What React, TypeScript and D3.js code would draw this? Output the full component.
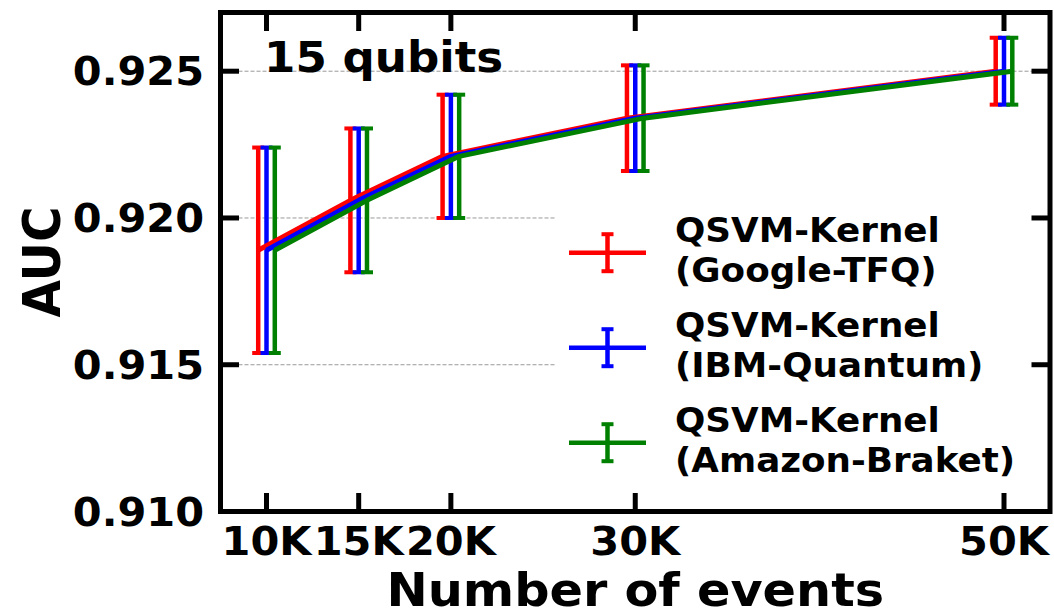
import React from "react";
import * as d3 from "d3";

// Training-set sizes and their tick labels
const events = [10000, 15000, 20000, 30000, 50000];
const eventLabels = ["10K", "15K", "20K", "30K", "50K"];

// Mean AUC and its spread for each simulator backend
const googleAuc = [0.9189, 0.9206, 0.9221, 0.9234, 0.925];
const googleErr = [0.0035, 0.00245, 0.0021, 0.0018, 0.00114];
const ibmAuc = [0.9189, 0.9206, 0.9221, 0.9234, 0.925];
const ibmErr = [0.0035, 0.00245, 0.0021, 0.0018, 0.00114];
const amazonAuc = [0.9189, 0.9206, 0.9221, 0.9234, 0.925];
const amazonErr = [0.0035, 0.00245, 0.0021, 0.0018, 0.00114];

const yTicks = [0.91, 0.915, 0.92, 0.925];
const yTickLabels = ["0.910", "0.915", "0.920", "0.925"];

const seriesNames = [
  ["QSVM-Kernel", "(Google-TFQ)"],
  ["QSVM-Kernel", "(IBM-Quantum)"],
  ["QSVM-Kernel", "(Amazon-Braket)"],
];
const seriesColors = ["#ff0000", "#0000ff", "#008000"];
// horizontal shift (in events) so the three error bars sit side by side
const seriesShift = [-450, 0, 450];

const W = 1054;
const H = 609;
const left = 220.5;
const right = 1050;
const top = 12.5;
const bottom = 511.5;
const FONT = "'DejaVu Sans', sans-serif";
const SX = 1.05; // horizontal glyph stretch

export default function App() {
  const series = [
    { auc: googleAuc, err: googleErr },
    { auc: ibmAuc, err: ibmErr },
    { auc: amazonAuc, err: amazonErr },
  ].map((s, i) => ({
    ...s,
    color: seriesColors[i],
    name: seriesNames[i],
    pts: events.map((e, j) => ({
      x: e + seriesShift[i],
      y: s.auc[j],
      e: s.err[j],
    })),
  }));

  // x limits: data extent plus a 5% margin on each side
  const xs = series.flatMap((s) => s.pts.map((p) => p.x));
  const xmin = d3.min(xs)!;
  const xmax = d3.max(xs)!;
  const pad = (xmax - xmin) * 0.05;
  const x = d3.scaleLinear().domain([xmin - pad, xmax + pad]).range([left, right]);
  const y = d3.scaleLinear().domain([0.91, 0.927]).range([bottom, top]);

  const line = d3
    .line<{ x: number; y: number }>()
    .x((p) => x(p.x))
    .y((p) => y(p.y));

  const capHalf = 6;
  const tickLen = 18.5;

  return (
    <svg
      width={W}
      height={H}
      style={{ position: "absolute", left: 0, top: 0, background: "#fff" }}
      fontFamily={FONT}
      fontWeight="bold"
    >
      <rect x={0} y={0} width={W} height={H} fill="#fff" />

      {/* horizontal grid */}
      {yTicks.slice(1).map((t) => (
        <line
          key={t}
          x1={left}
          x2={right}
          y1={y(t)}
          y2={y(t)}
          stroke="#9a9a9a"
          strokeWidth={1}
          strokeDasharray="4 2"
        />
      ))}

      {/* annotation */}
      <text transform={`translate(264,71.7) scale(${SX},1)`} fontSize={43}>
        15 qubits
      </text>

      {/* vertical error bars */}
      {series.map((s, i) => (
        <g key={`bar${i}`}>
          {s.pts.map((p, j) => (
            <line
              key={j}
              x1={x(p.x)}
              x2={x(p.x)}
              y1={y(p.y - p.e)}
              y2={y(p.y + p.e)}
              stroke={s.color}
              strokeWidth={4.5}
            />
          ))}
        </g>
      ))}

      {/* mean AUC lines */}
      {series.map((s, i) => (
        <path
          key={`ln${i}`}
          d={line(s.pts)!}
          fill="none"
          stroke={s.color}
          strokeWidth={5}
          strokeLinejoin="round"
        />
      ))}

      {/* error bar caps */}
      {series.map((s, i) => (
        <g key={`cap${i}`}>
          {s.pts.flatMap((p, j) =>
            [p.y - p.e, p.y + p.e].map((v, k) => (
              <line
                key={`${j}-${k}`}
                x1={x(p.x) - capHalf}
                x2={x(p.x) + capHalf}
                y1={y(v)}
                y2={y(v)}
                stroke={s.color}
                strokeWidth={4}
              />
            ))
          )}
        </g>
      ))}

      {/* legend */}
      <g>
        <rect x={556} y={196} width={478} height={294} fill="#fff" />
        {series.map((s, i) => {
          const cy = 252.7 + i * 95;
          return (
            <g key={`lg${i}`}>
              <line x1={569} x2={646} y1={cy} y2={cy} stroke={s.color} strokeWidth={4.5} />
              <line x1={607.5} x2={607.5} y1={cy - 18.5} y2={cy + 18.5} stroke={s.color} strokeWidth={4.5} />
              <line x1={601.5} x2={613.5} y1={cy - 18.5} y2={cy - 18.5} stroke={s.color} strokeWidth={4} />
              <line x1={601.5} x2={613.5} y1={cy + 18.5} y2={cy + 18.5} stroke={s.color} strokeWidth={4} />
              <text transform={`translate(675,${cy - 11}) scale(${SX},1)`} fontSize={34}>
                {s.name[0]}
              </text>
              <text transform={`translate(675,${cy + 29}) scale(${SX},1)`} fontSize={34}>
                {s.name[1]}
              </text>
            </g>
          );
        })}
      </g>

      {/* ticks, pointing inward on all four sides */}
      {events.map((e) => (
        <g key={`xt${e}`} stroke="#000" strokeWidth={5}>
          <line x1={x(e)} x2={x(e)} y1={bottom} y2={bottom - tickLen} />
          <line x1={x(e)} x2={x(e)} y1={top} y2={top + tickLen} />
        </g>
      ))}
      {yTicks.map((t) => (
        <g key={`yt${t}`} stroke="#000" strokeWidth={5}>
          <line x1={left} x2={left + tickLen} y1={y(t)} y2={y(t)} />
          <line x1={right} x2={right - tickLen} y1={y(t)} y2={y(t)} />
        </g>
      ))}

      {/* frame */}
      <rect
        x={left}
        y={top}
        width={right - left}
        height={bottom - top}
        fill="none"
        stroke="#000"
        strokeWidth={5}
      />

      {/* tick labels */}
      {events.map((e, i) => (
        <text
          key={`xl${e}`}
          transform={`translate(${x(e)},555) scale(${SX},1)`}
          textAnchor="middle"
          fontSize={39.5}
        >
          {eventLabels[i]}
        </text>
      ))}
      {yTicks.map((t, i) => (
        <text
          key={`yl${t}`}
          transform={`translate(204,${y(t) + 14.2}) scale(${SX},1)`}
          textAnchor="end"
          fontSize={39.5}
        >
          {yTickLabels[i]}
        </text>
      ))}

      {/* axis titles */}
      <text
        transform={`translate(${(left + right) / 2},606) scale(${SX},1)`}
        textAnchor="middle"
        fontSize={47}
      >
        Number of events
      </text>
      <text
        transform={`translate(60,${(top + bottom) / 2}) scale(${SX},1) rotate(-90)`}
        textAnchor="middle"
        fontSize={48.5}
      >
        AUC
      </text>
    </svg>
  );
}
